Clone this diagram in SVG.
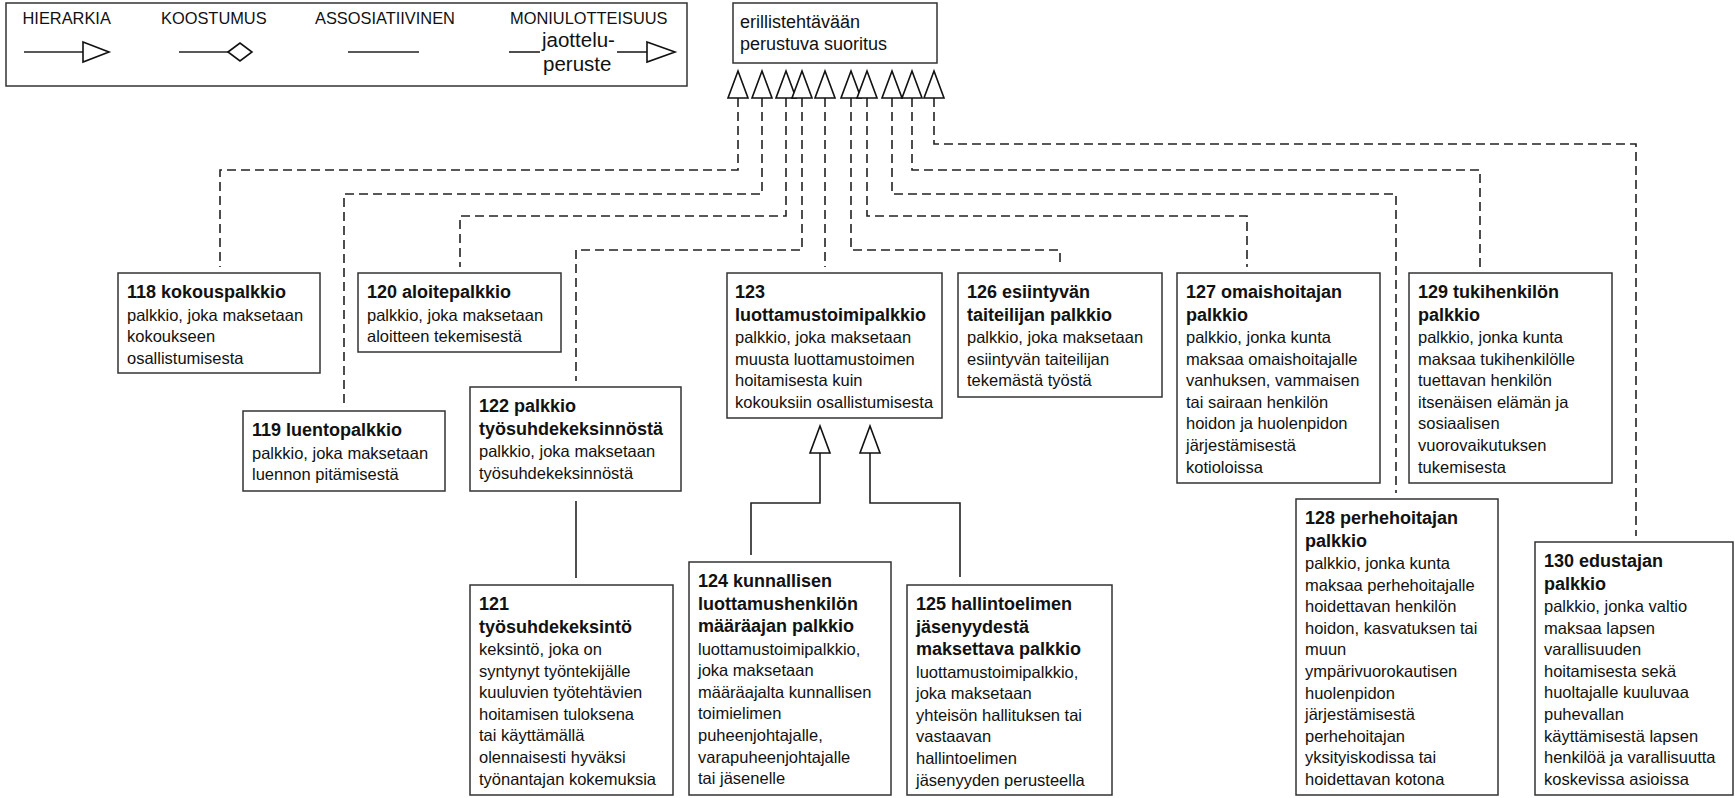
<svg xmlns="http://www.w3.org/2000/svg" width="1735" height="798" viewBox="0 0 1735 798">
<style>
rect.box{fill:#fff;stroke:#333;stroke-width:1.5}
text{font-family:"Liberation Sans",Arial,sans-serif;fill:#111}
.b{font-size:16.5px}
.t{font-size:18px;font-weight:bold}
.lg{font-size:16.4px}
.tp{font-size:18px}
.jp{font-size:20.5px}
.dash{fill:none;stroke:#222;stroke-width:1.6;stroke-dasharray:9 5}
.sol{fill:none;stroke:#222;stroke-width:1.6}
.tri{fill:#fff;stroke:#111;stroke-width:1.6}
</style>
<defs>
<path id="tri" d="M0 0 L10 27 L-10 27 Z"/>
</defs>

<g id="legend">
<rect class="box" x="6" y="3" width="681" height="83"/>
<text class="lg" x="22.5" y="24">HIERARKIA</text>
<text class="lg" x="161" y="24">KOOSTUMUS</text>
<text class="lg" x="315" y="24">ASSOSIATIIVINEN</text>
<text class="lg" x="510" y="24">MONIULOTTEISUUS</text>
<path class="sol" d="M24 52 H83"/>
<path class="tri" d="M83 42 L109 52 L83 62 Z"/>
<path class="sol" d="M179 52 H228"/>
<path class="tri" d="M228 52 L240 43 L252 52 L240 61 Z"/>
<path class="sol" d="M348 52 H419"/>
<path class="sol" d="M509 52 H540"/>
<text class="jp" x="542" y="47">jaottelu-</text>
<text class="jp" x="543" y="71">peruste</text>
<path class="sol" d="M617 52 H647"/>
<path class="tri" d="M647 42 L675 52 L647 62 Z"/>
</g>

<g id="top">
<rect class="box" x="733" y="3" width="204" height="60"/>
<text class="tp"><tspan x="740" y="28">erillistehtävään</tspan><tspan x="740" y="50">perustuva suoritus</tspan></text>
</g>

<g id="connectors">
<path class="dash" d="M738 98 V170 H220 V267"/>
<path class="dash" d="M762 98 V194 H344 V405"/>
<path class="dash" d="M786 98 V216 H460 V267"/>
<path class="dash" d="M802 98 V250 H576 V381"/>
<path class="dash" d="M825 98 V267"/>
<path class="dash" d="M851 98 V250 H1060 V267"/>
<path class="dash" d="M867 98 V216 H1247 V267"/>
<path class="dash" d="M892 98 V194 H1396 V493"/>
<path class="dash" d="M912 98 V170 H1480 V267"/>
<path class="dash" d="M934 98 V144 H1636 V536"/>
<use href="#tri" class="tri" x="738" y="71"/>
<use href="#tri" class="tri" x="762" y="71"/>
<use href="#tri" class="tri" x="786" y="71"/>
<use href="#tri" class="tri" x="802" y="71"/>
<use href="#tri" class="tri" x="825" y="71"/>
<use href="#tri" class="tri" x="851" y="71"/>
<use href="#tri" class="tri" x="867" y="71"/>
<use href="#tri" class="tri" x="892" y="71"/>
<use href="#tri" class="tri" x="912" y="71"/>
<use href="#tri" class="tri" x="934" y="71"/>
<path class="sol" d="M576 501 V578"/>
<path class="sol" d="M751 555 V503 H820 V453"/>
<path class="sol" d="M960 577 V503 H870 V453"/>
<use href="#tri" class="tri" x="820" y="426"/>
<use href="#tri" class="tri" x="870" y="426"/>
</g>

<g id="n118">
<rect class="box" x="118" y="273" width="202" height="100"/>
<text><tspan class="t" x="127" y="298">118 kokouspalkkio</tspan><tspan class="b" x="127" dy="22.5">palkkio, joka maksetaan</tspan><tspan class="b" x="127" dy="21.6">kokoukseen</tspan><tspan class="b" x="127" dy="21.6">osallistumisesta</tspan></text>
</g>

<g id="n119">
<rect class="box" x="243" y="411" width="202" height="80"/>
<text><tspan class="t" x="252" y="436">119 luentopalkkio</tspan><tspan class="b" x="252" dy="22.5">palkkio, joka maksetaan</tspan><tspan class="b" x="252" dy="21.6">luennon pitämisestä</tspan></text>
</g>

<g id="n120">
<rect class="box" x="358" y="273" width="203" height="79"/>
<text><tspan class="t" x="367" y="298">120 aloitepalkkio</tspan><tspan class="b" x="367" dy="22.5">palkkio, joka maksetaan</tspan><tspan class="b" x="367" dy="21.6">aloitteen tekemisestä</tspan></text>
</g>

<g id="n121">
<rect class="box" x="470" y="585" width="203" height="210"/>
<text><tspan class="t" x="479" y="610">121</tspan><tspan class="t" x="479" dy="22.5">työsuhdekeksintö</tspan><tspan class="b" x="479" dy="22.5">keksintö, joka on</tspan><tspan class="b" x="479" dy="21.6">syntynyt työntekijälle</tspan><tspan class="b" x="479" dy="21.6">kuuluvien työtehtävien</tspan><tspan class="b" x="479" dy="21.6">hoitamisen tuloksena</tspan><tspan class="b" x="479" dy="21.6">tai käyttämällä</tspan><tspan class="b" x="479" dy="21.6">olennaisesti hyväksi</tspan><tspan class="b" x="479" dy="21.6">työnantajan kokemuksia</tspan></text>
</g>

<g id="n122">
<rect class="box" x="470" y="387" width="211" height="104"/>
<text><tspan class="t" x="479" y="412">122 palkkio</tspan><tspan class="t" x="479" dy="22.5">työsuhdekeksinnöstä</tspan><tspan class="b" x="479" dy="22.5">palkkio, joka maksetaan</tspan><tspan class="b" x="479" dy="21.6">työsuhdekeksinnöstä</tspan></text>
</g>

<g id="n123">
<rect class="box" x="727" y="273" width="215" height="145"/>
<text><tspan class="t" x="735" y="298">123</tspan><tspan class="t" x="735" dy="22.5">luottamustoimipalkkio</tspan><tspan class="b" x="735" dy="22.5">palkkio, joka maksetaan</tspan><tspan class="b" x="735" dy="21.6">muusta luottamustoimen</tspan><tspan class="b" x="735" dy="21.6">hoitamisesta kuin</tspan><tspan class="b" x="735" dy="21.6">kokouksiin osallistumisesta</tspan></text>
</g>

<g id="n124">
<rect class="box" x="689" y="562" width="202" height="233"/>
<text><tspan class="t" x="698" y="587">124 kunnallisen</tspan><tspan class="t" x="698" dy="22.5">luottamushenkilön</tspan><tspan class="t" x="698" dy="22.5">määräajan palkkio</tspan><tspan class="b" x="698" dy="22.5">luottamustoimipalkkio,</tspan><tspan class="b" x="698" dy="21.6">joka maksetaan</tspan><tspan class="b" x="698" dy="21.6">määräajalta kunnallisen</tspan><tspan class="b" x="698" dy="21.6">toimielimen</tspan><tspan class="b" x="698" dy="21.6">puheenjohtajalle,</tspan><tspan class="b" x="698" dy="21.6">varapuheenjohtajalle</tspan><tspan class="b" x="698" dy="21.6">tai jäsenelle</tspan></text>
</g>

<g id="n125">
<rect class="box" x="907" y="585" width="205" height="210"/>
<text><tspan class="t" x="916" y="610">125 hallintoelimen</tspan><tspan class="t" x="916" dy="22.5">jäsenyydestä</tspan><tspan class="t" x="916" dy="22.5">maksettava palkkio</tspan><tspan class="b" x="916" dy="22.5">luottamustoimipalkkio,</tspan><tspan class="b" x="916" dy="21.6">joka maksetaan</tspan><tspan class="b" x="916" dy="21.6">yhteisön hallituksen tai</tspan><tspan class="b" x="916" dy="21.6">vastaavan</tspan><tspan class="b" x="916" dy="21.6">hallintoelimen</tspan><tspan class="b" x="916" dy="21.6">jäsenyyden perusteella</tspan></text>
</g>

<g id="n126">
<rect class="box" x="958" y="273" width="204" height="124"/>
<text><tspan class="t" x="967" y="298">126 esiintyvän</tspan><tspan class="t" x="967" dy="22.5">taiteilijan palkkio</tspan><tspan class="b" x="967" dy="22.5">palkkio, joka maksetaan</tspan><tspan class="b" x="967" dy="21.6">esiintyvän taiteilijan</tspan><tspan class="b" x="967" dy="21.6">tekemästä työstä</tspan></text>
</g>

<g id="n127">
<rect class="box" x="1177" y="273" width="203" height="210"/>
<text><tspan class="t" x="1186" y="298">127 omaishoitajan</tspan><tspan class="t" x="1186" dy="22.5">palkkio</tspan><tspan class="b" x="1186" dy="22.5">palkkio, jonka kunta</tspan><tspan class="b" x="1186" dy="21.6">maksaa omaishoitajalle</tspan><tspan class="b" x="1186" dy="21.6">vanhuksen, vammaisen</tspan><tspan class="b" x="1186" dy="21.6">tai sairaan henkilön</tspan><tspan class="b" x="1186" dy="21.6">hoidon ja huolenpidon</tspan><tspan class="b" x="1186" dy="21.6">järjestämisestä</tspan><tspan class="b" x="1186" dy="21.6">kotioloissa</tspan></text>
</g>

<g id="n128">
<rect class="box" x="1296" y="499" width="202" height="296"/>
<text><tspan class="t" x="1305" y="524">128 perhehoitajan</tspan><tspan class="t" x="1305" dy="22.5">palkkio</tspan><tspan class="b" x="1305" dy="22.5">palkkio, jonka kunta</tspan><tspan class="b" x="1305" dy="21.6">maksaa perhehoitajalle</tspan><tspan class="b" x="1305" dy="21.6">hoidettavan henkilön</tspan><tspan class="b" x="1305" dy="21.6">hoidon, kasvatuksen tai</tspan><tspan class="b" x="1305" dy="21.6">muun</tspan><tspan class="b" x="1305" dy="21.6">ympärivuorokautisen</tspan><tspan class="b" x="1305" dy="21.6">huolenpidon</tspan><tspan class="b" x="1305" dy="21.6">järjestämisestä</tspan><tspan class="b" x="1305" dy="21.6">perhehoitajan</tspan><tspan class="b" x="1305" dy="21.6">yksityiskodissa tai</tspan><tspan class="b" x="1305" dy="21.6">hoidettavan kotona</tspan></text>
</g>

<g id="n129">
<rect class="box" x="1409" y="273" width="203" height="210"/>
<text><tspan class="t" x="1418" y="298">129 tukihenkilön</tspan><tspan class="t" x="1418" dy="22.5">palkkio</tspan><tspan class="b" x="1418" dy="22.5">palkkio, jonka kunta</tspan><tspan class="b" x="1418" dy="21.6">maksaa tukihenkilölle</tspan><tspan class="b" x="1418" dy="21.6">tuettavan henkilön</tspan><tspan class="b" x="1418" dy="21.6">itsenäisen elämän ja</tspan><tspan class="b" x="1418" dy="21.6">sosiaalisen</tspan><tspan class="b" x="1418" dy="21.6">vuorovaikutuksen</tspan><tspan class="b" x="1418" dy="21.6">tukemisesta</tspan></text>
</g>

<g id="n130">
<rect class="box" x="1535" y="542" width="198" height="253"/>
<text><tspan class="t" x="1544" y="567">130 edustajan</tspan><tspan class="t" x="1544" dy="22.5">palkkio</tspan><tspan class="b" x="1544" dy="22.5">palkkio, jonka valtio</tspan><tspan class="b" x="1544" dy="21.6">maksaa lapsen</tspan><tspan class="b" x="1544" dy="21.6">varallisuuden</tspan><tspan class="b" x="1544" dy="21.6">hoitamisesta sekä</tspan><tspan class="b" x="1544" dy="21.6">huoltajalle kuuluvaa</tspan><tspan class="b" x="1544" dy="21.6">puhevallan</tspan><tspan class="b" x="1544" dy="21.6">käyttämisestä lapsen</tspan><tspan class="b" x="1544" dy="21.6">henkilöä ja varallisuutta</tspan><tspan class="b" x="1544" dy="21.6">koskevissa asioissa</tspan></text>
</g>
</svg>
